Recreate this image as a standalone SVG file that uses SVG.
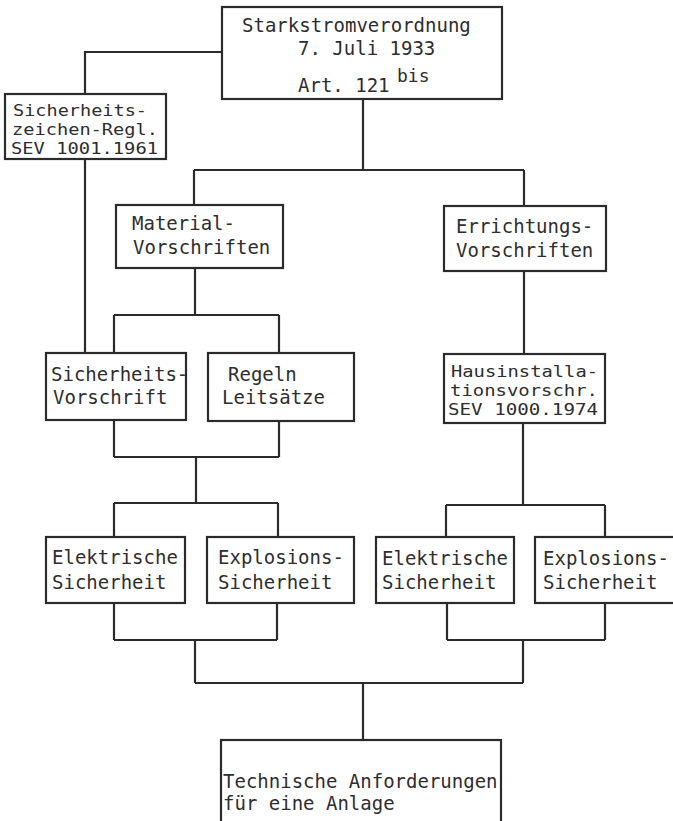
<svg xmlns="http://www.w3.org/2000/svg" width="673" height="821" viewBox="0 0 673 821">
<style>
.box{fill:#fff;stroke:#2b2b2b;stroke-width:2.2}
.ln{fill:none;stroke:#2b2b2b;stroke-width:2.2}
text{font-family:"DejaVu Sans Mono","Liberation Mono",monospace;font-size:19px;fill:#2e2e2e}
.tight{font-size:16px}
.tighter{font-size:15px}
</style>
<rect width="673" height="821" fill="#fff"/>
<g id="connectors">
<path class="ln" d="M222,52 H85 V94"/>
<path class="ln" d="M85,159 V353"/>
<path class="ln" d="M363,99 V170 M194,170 H524 M194,170 V205 M524,170 V206"/>
<path class="ln" d="M195,268 V315 M114,315 H279 M114,315 V353 M279,315 V353"/>
<path class="ln" d="M524,271 V354"/>
<path class="ln" d="M114,420 V457 M279,421 V457 M114,457 H279 M196,457 V503 M114,503 H278 M114,503 V537 M278,503 V537"/>
<path class="ln" d="M523,423 V505 M446,505 H605 M446,505 V537 M605,505 V537"/>
<path class="ln" d="M114,603 V640 M277,603 V640 M114,640 H277 M447,603 V640 M605,603 V640 M447,640 H605"/>
<path class="ln" d="M195,640 V683 M523,640 V683 M195,683 H523 M363,683 V740"/>
</g>
<g id="starkstrom">
<rect class="box" x="222" y="7" width="280" height="92"/>
<text x="242" y="32">Starkstromverordnung</text>
<text x="298" y="55">7. Juli 1933</text>
<text x="298" y="92">Art. 121</text>
<text x="397" y="82" style="font-size:18px">bis</text>
</g>
<g id="sicherheitszeichen">
<rect class="box" x="5" y="94" width="161" height="65"/>
<text class="tighter" x="13" y="116" textLength="134" lengthAdjust="spacingAndGlyphs">Sicherheits-</text>
<text class="tighter" x="12" y="135" textLength="146" lengthAdjust="spacingAndGlyphs">zeichen-Regl.</text>
<text class="tighter" x="11" y="154" textLength="147" lengthAdjust="spacingAndGlyphs">SEV 1001.1961</text>
</g>
<g id="material">
<rect class="box" x="116" y="205" width="167" height="63"/>
<text x="132" y="230">Material-</text>
<text x="133" y="254">Vorschriften</text>
</g>
<g id="errichtungs">
<rect class="box" x="444" y="206" width="162" height="65"/>
<text x="456" y="233">Errichtungs-</text>
<text x="456" y="257">Vorschriften</text>
</g>
<g id="sicherheitsvorschrift">
<rect class="box" x="46" y="353" width="140" height="67"/>
<text x="51" y="381">Sicherheits-</text>
<text x="53" y="404">Vorschrift</text>
</g>
<g id="regeln">
<rect class="box" x="208" y="353" width="146" height="68"/>
<text x="228" y="381">Regeln</text>
<text x="222" y="404">Leitsätze</text>
</g>
<g id="hausinstallation">
<rect class="box" x="444" y="354" width="161" height="69"/>
<text class="tight" x="451" y="377" textLength="147" lengthAdjust="spacingAndGlyphs">Hausinstalla-</text>
<text class="tight" x="450" y="396" textLength="148" lengthAdjust="spacingAndGlyphs">tionsvorschr.</text>
<text class="tight" x="448" y="415" textLength="150" lengthAdjust="spacingAndGlyphs">SEV 1000.1974</text>
</g>
<g id="elektrisch-links">
<rect class="box" x="46" y="537" width="139" height="66"/>
<text x="52" y="564">Elektrische</text>
<text x="52" y="589">Sicherheit</text>
</g>
<g id="explosion-links">
<rect class="box" x="207" y="537" width="147" height="66"/>
<text x="218" y="564">Explosions-</text>
<text x="218" y="589">Sicherheit</text>
</g>
<g id="elektrisch-rechts">
<rect class="box" x="376" y="537" width="138" height="66"/>
<text x="382" y="565">Elektrische</text>
<text x="382" y="589">Sicherheit</text>
</g>
<g id="explosion-rechts">
<rect class="box" x="535" y="537" width="150" height="66"/>
<text x="543" y="565">Explosions-</text>
<text x="543" y="589">Sicherheit</text>
</g>
<g id="anforderungen">
<rect class="box" x="221" y="740" width="280" height="95"/>
<text x="223" y="788">Technische Anforderungen</text>
<text x="223" y="810">für eine Anlage</text>
</g>
</svg>
